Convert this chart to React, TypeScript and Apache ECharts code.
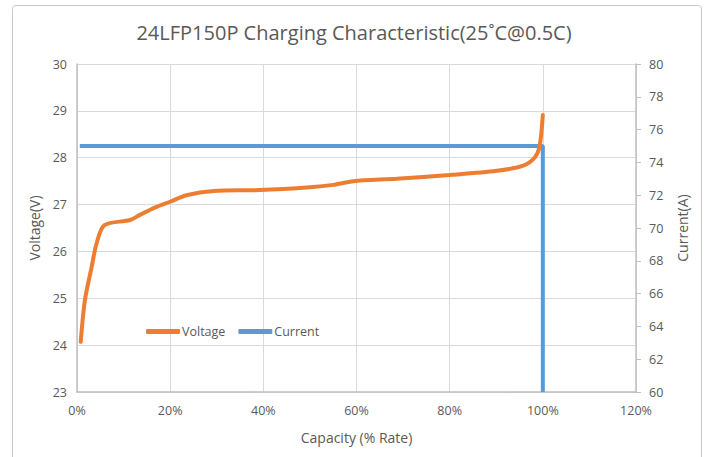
import React, { useEffect, useRef } from "react";
import * as echarts from "echarts";

const titleText = "24LFP150P Charging Characteristic(25˚C@0.5C)";
const voltageCapacity = [0.8, 1.7, 3.15, 4.2, 5.9, 11.4, 13.5, 17.1, 20, 23.5, 29.3, 39.3, 50, 55, 59.3, 68.6, 80, 90.1, 95.8, 98.3, 99.3, 100];
const voltageValues = [24.07, 24.96, 25.67, 26.17, 26.56, 26.67, 26.78, 26.95, 27.06, 27.2, 27.29, 27.31, 27.37, 27.42, 27.5, 27.55, 27.63, 27.72, 27.83, 28.01, 28.24, 28.91];
const currentCapacity = [0.6, 100, 100];
const currentValues = [75, 75, 60];

const textColor = "#595959";
const fontFamily = "'Open Sans', 'Noto Sans', sans-serif";

export default function App() {
  const ref = useRef<HTMLDivElement>(null);
  useEffect(() => {
    if (!ref.current) return;
    const chart = echarts.init(ref.current, undefined, { renderer: "svg" });
    const vData = voltageCapacity.map((x, i) => [x, voltageValues[i]]);
    const cData = currentCapacity.map((x, i) => [x, currentValues[i]]);
    chart.setOption({
      animation: false,
      backgroundColor: "#ffffff",
      textStyle: { fontFamily, color: textColor },
      title: {
        text: titleText,
        left: "center",
        top: 17,
        textStyle: { fontFamily, fontSize: 20, fontWeight: "normal", color: textColor },
      },
      graphic: [
        {
          type: "rect",
          shape: { x: 12.5, y: 5.5, width: 689, height: 470, r: 3 },
          style: { fill: "none", stroke: "#c8c8c8", lineWidth: 1 },
          silent: true,
          z: 100,
        },
      ],
      legend: {
        left: 141,
        top: 320,
        itemWidth: 34,
        itemHeight: 5,
        itemGap: 13,
        icon: "roundRect",
        textStyle: { fontFamily, fontSize: 12.5, color: textColor, padding: [0, 0, 0, -3] },
        data: ["Voltage", "Current"],
      },
      grid: { left: 77, right: 72, top: 64, bottom: 65, containLabel: false },
      xAxis: {
        type: "value",
        min: 0,
        max: 120,
        interval: 20,
        name: "Capacity (% Rate)",
        nameLocation: "middle",
        nameGap: 38,
        nameTextStyle: { fontFamily, fontSize: 14, color: textColor },
        axisLine: { show: true, lineStyle: { color: "#bfbfbf", width: 1.5 } },
        axisTick: { show: false },
        axisLabel: { formatter: (v: number) => `${v}%`, fontSize: 12.5, color: textColor, margin: 12 },
        splitLine: { show: true, lineStyle: { color: "#d9d9d9", width: 1 } },
      },
      yAxis: [
        {
          type: "value",
          min: 23,
          max: 30,
          interval: 1,
          name: "Voltage(V)",
          nameLocation: "middle",
          nameGap: 36,
          nameTextStyle: { fontFamily, fontSize: 14, color: textColor },
          axisLine: { show: true, lineStyle: { color: "#bfbfbf", width: 1.5 } },
          axisTick: { show: false },
          axisLabel: { fontSize: 12.5, color: textColor, margin: 10 },
          splitLine: { show: true, lineStyle: { color: "#d9d9d9", width: 1 } },
        },
        {
          type: "value",
          min: 60,
          max: 80,
          interval: 2,
          name: "Current(A)",
          nameLocation: "middle",
          nameGap: 39,
          nameTextStyle: { fontFamily, fontSize: 14, color: textColor },
          axisLine: { show: true, lineStyle: { color: "#bfbfbf", width: 1.5 } },
          axisTick: { show: true, inside: false, length: 5, lineStyle: { color: "#bfbfbf" } },
          axisLabel: { fontSize: 12.5, color: textColor, margin: 13 },
          splitLine: { show: false },
        },
      ],
      series: [
        {
          name: "Voltage",
          type: "line",
          yAxisIndex: 0,
          data: vData,
          smooth: 0.3,
          showSymbol: false,
          symbol: "none",
          lineStyle: { color: "#ED7D31", width: 4, cap: "round" },
          itemStyle: { color: "#ED7D31" },
          z: 3,
        },
        {
          name: "Current",
          type: "line",
          yAxisIndex: 1,
          data: cData,
          showSymbol: false,
          symbol: "none",
          lineStyle: { color: "#5B9BD5", width: 4 },
          itemStyle: { color: "#5B9BD5" },
          z: 2,
        },
      ],
    });
    return () => chart.dispose();
  }, []);
  return (
    <div
      ref={ref}
      style={{ position: "fixed", left: 0, top: 0, width: 708, height: 457 }}
    />
  );
}
